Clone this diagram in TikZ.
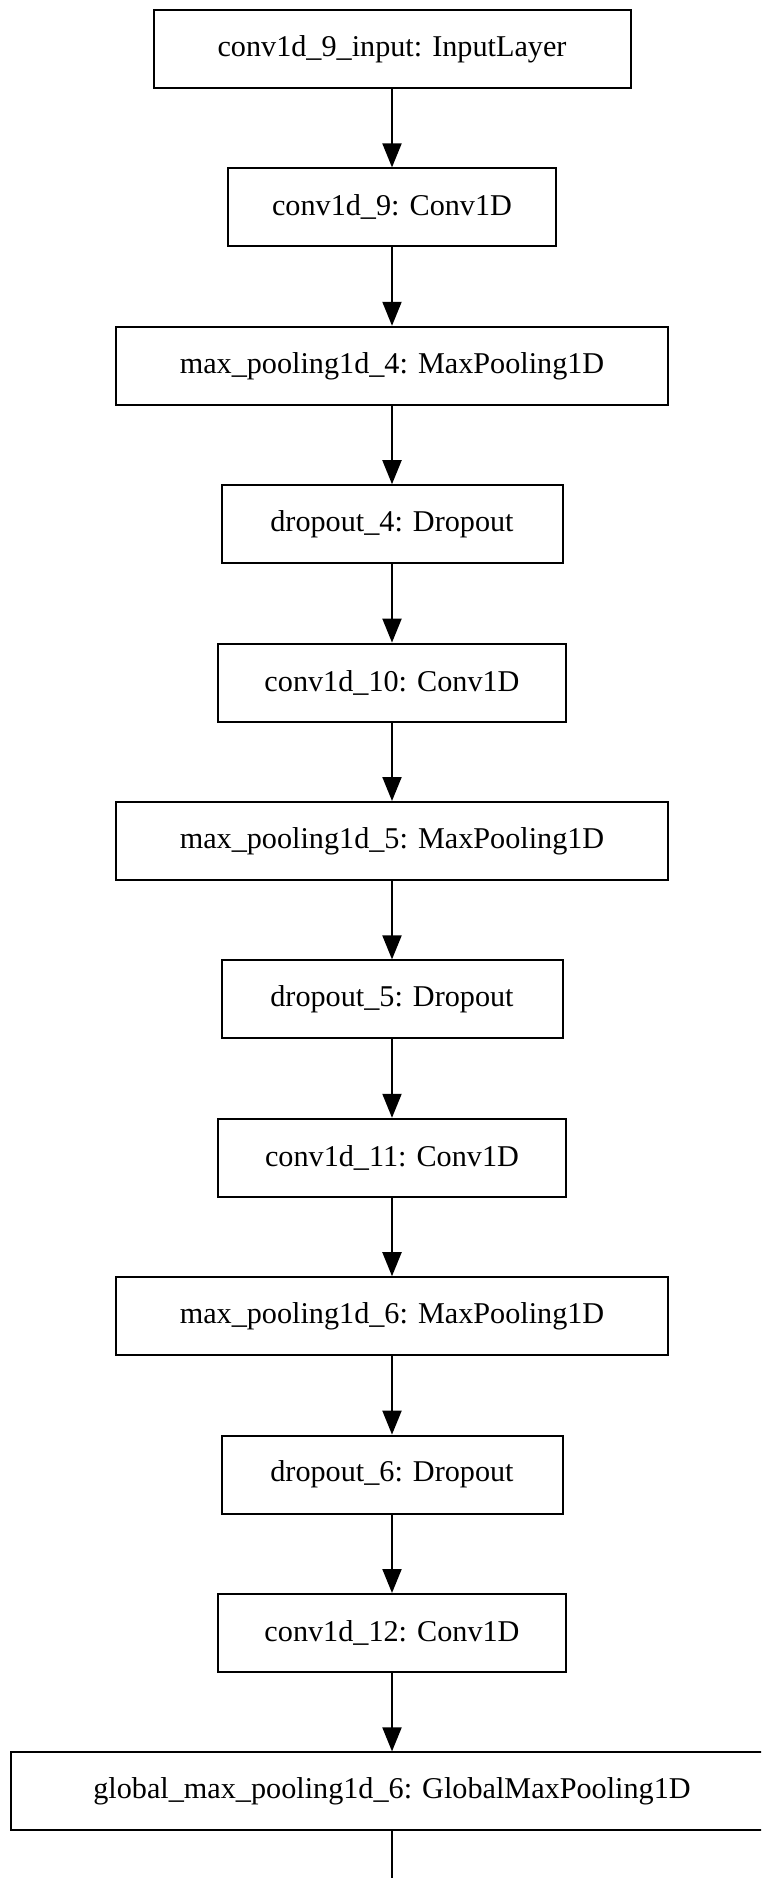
\documentclass[tikz,border=0pt]{standalone}
\usepackage{fontspec}
\setmainfont{Liberation Serif}
\usetikzlibrary{arrows.meta}
\begin{document}
\begin{tikzpicture}[x=0.5pt,y=-0.5pt,
  layer/.style={draw=black, line width=1pt, rectangle, minimum height=39pt,
    inner sep=0pt, font=\fontsize{15.1}{18}\selectfont},
  inputw/.style={minimum width=238.5pt},
  convw/.style={minimum width=174pt},
  poolw/.style={minimum width=276.25pt},
  dropw/.style={minimum width=170.5pt},
  flow/.style={line width=1pt, -{Triangle[length=12pt,width=9.5pt]}},
  tail/.style={line width=1pt}]
\clip (0,0) rectangle (761,1878);
\fill[white] (0,0) rectangle (761,1878);

% layer boxes, top to bottom
\node[layer, inputw] (n1) at (392,49) {conv1d\_9\_input: InputLayer};
\node[layer, minimum width=164pt] (n2) at (392,207.4) {conv1d\_9: Conv1D};
\node[layer, poolw] (n3) at (392,365.8) {max\_pooling1d\_4: MaxPooling1D};
\node[layer, dropw] (n4) at (392,524.2) {dropout\_4: Dropout};
\node[layer, convw] (n5) at (392,682.6) {conv1d\_10: Conv1D};
\node[layer, poolw] (n6) at (392,841) {max\_pooling1d\_5: MaxPooling1D};
\node[layer, dropw] (n7) at (392,999.4) {dropout\_5: Dropout};
\node[layer, convw] (n8) at (392,1157.8) {conv1d\_11: Conv1D};
\node[layer, poolw] (n9) at (392,1316.2) {max\_pooling1d\_6: MaxPooling1D};
\node[layer, dropw] (n10) at (392,1474.6) {dropout\_6: Dropout};
\node[layer, convw] (n11) at (392,1633) {conv1d\_12: Conv1D};
\node[layer, minimum width=381pt] (n12) at (392,1791.4) {global\_max\_pooling1d\_6: GlobalMaxPooling1D};
\coordinate (out) at (392,1900);

% connections
\foreach \a/\b in {n1/n2,n2/n3,n3/n4,n4/n5,n5/n6,n6/n7,n7/n8,n8/n9,n9/n10,n10/n11,n11/n12}
  \draw[flow] (\a.south) -- (\b.north);
\draw[tail] (n12.south) -- (out);
\end{tikzpicture}
\end{document}
